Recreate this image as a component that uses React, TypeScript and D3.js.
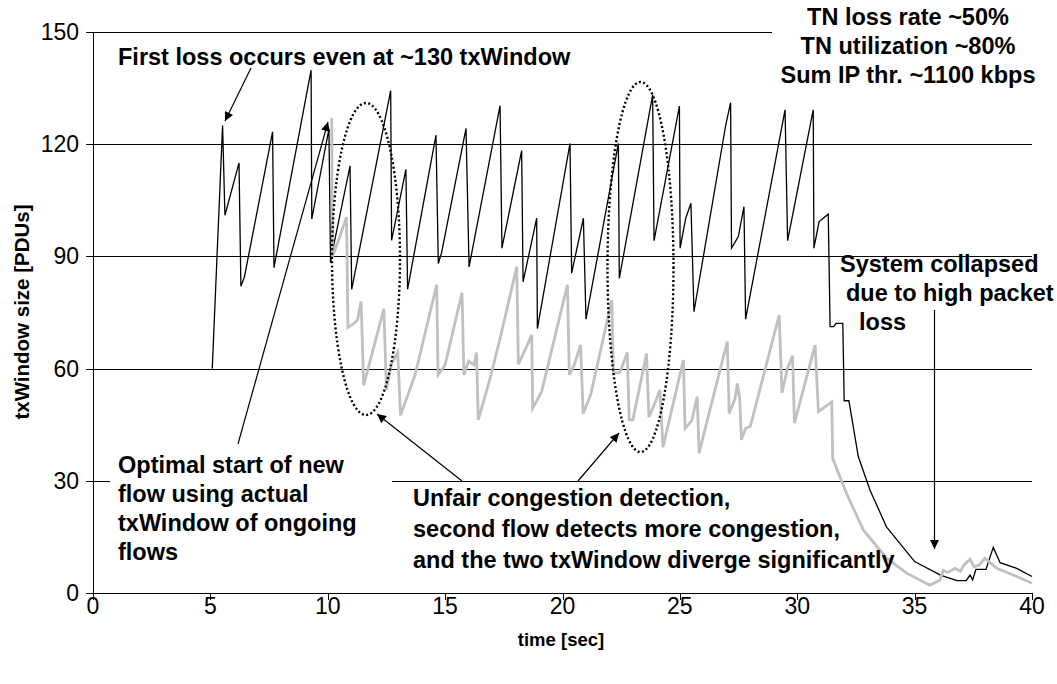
import React from "react";
import * as d3 from "d3";

// Flow 1 (black): [time sec, txWindow PDUs]
const flow1Time = [5.08,5.52,5.62,6.22,6.30,6.45,7.65,7.71,9.29,9.32,10.05,10.12,10.27,10.95,11.02,12.68,12.72,13.33,13.40,14.61,14.71,14.85,15.89,16.02,17.34,17.42,18.26,18.32,18.90,18.93,20.32,20.39,20.89,21.0,22.38,22.42,23.84,23.90,24.98,25.01,25.25,25.47,25.60,26.95,27.16,27.20,27.49,27.73,27.80,29.48,29.59,30.68,30.71,30.93,31.32,31.40,31.55,31.65,31.94,32.0,32.2,32.6,33.1,33.8,35.0,36.1,36.8,37.2,37.36,37.47,37.61,38.04,38.35,38.64,39.35,40];
const flow1Win = [60,125,101,115,82,84.5,123.3,87,139.8,100,124,88.3,93.5,114.2,81.2,134.3,94.3,113.3,81.2,122.4,88.1,91,124.2,87.2,130.3,92.2,118.3,83.2,100.2,70.7,120.2,85.5,100.2,73.2,120.2,84.1,133.2,94.2,130.2,92.2,100.2,104.2,75.2,125,131.1,92.2,95.3,103.3,73.2,129.2,94.2,129.2,92.2,99.3,101.3,71.2,71.2,72.1,72.1,51.4,51.4,36.5,27.5,17.7,8.4,4.8,3.3,3.3,4.8,3.5,6.3,6.3,12.2,8.1,6.6,4.4];

// Flow 2 (grey)
const flow2Time = [10.17,10.2,10.5,10.8,10.86,11.1,11.27,11.42,11.53,12.39,12.5,12.7,12.98,13.1,13.72,14.64,14.7,15.0,15.72,15.8,16.0,16.23,16.34,16.41,16.9,17.34,18.05,18.12,18.47,18.69,18.73,19.11,20.21,20.29,20.5,20.77,20.88,21.2,22.1,22.17,22.45,22.76,22.84,23.0,23.58,23.68,23.95,24.15,24.28,25.15,25.22,25.5,25.74,25.82,26.2,27.02,27.1,27.35,27.45,27.55,27.62,27.8,28.0,29.23,29.35,29.58,29.8,29.88,30.76,30.9,31.47,31.51,32.1,32.82,33.81,34.66,35.65,36.08,36.22,36.4,36.72,36.95,37.1,37.36,37.53,37.75,38.0,38.5,39.35,40];
const flow2Win = [127,90,95,100.5,71,72,73,78,55.5,76,54.3,61,64.3,47.5,58.3,82.4,58.3,61,80.3,58.3,62,61,64.3,46.3,57,68,87.2,61.2,65.9,69,49.4,53.8,82.4,58.3,61,66.3,48,53,78.3,58.7,59,64.3,46.3,46.3,64,47,51,54.3,39,62.3,44,46,52.5,37.4,47,67.2,48,52,56,52,41,44,44.5,74.3,53.5,60,63.4,45.4,66.3,48.5,51.1,36,26.6,16.8,9.3,5.3,2.1,3.5,6.1,5.5,6.6,5.8,7.5,9,7,7.5,9.3,6.6,4.4,2.6];

const xTicks = [0,5,10,15,20,25,30,35,40];
const yTicks = [0,30,60,90,120,150];

const W = 1057, H = 684;
const FONT = "'Liberation Sans', Arial, Helvetica, sans-serif";

export default function App() {
  const x = d3.scaleLinear().domain([0, 40]).range([93, 1032]);
  const y = d3.scaleLinear().domain([0, 150]).range([593, 32]);
  const line = d3.line<[number, number]>().x(d => x(d[0])).y(d => y(d[1]));
  const s1 = flow1Time.map((t, i) => [t, flow1Win[i]] as [number, number]);
  const s2 = flow2Time.map((t, i) => [t, flow2Win[i]] as [number, number]);

  const bold = { fontFamily: FONT, fontWeight: 700, fontSize: 23.5, fill: "#000" } as const;
  const tick = { fontFamily: FONT, fontSize: 23 } as const;

  return (
    <svg width={W} height={H} style={{ position: "absolute", left: 0, top: 0, background: "#fff" }}>
      <defs>
        <marker id="ah" viewBox="0 0 10 10" refX="10" refY="5" markerWidth="11" markerHeight="9" markerUnits="userSpaceOnUse" orient="auto">
          <path d="M0,0 L10,5 L0,10 z" fill="#000" />
        </marker>
      </defs>
      <rect x={0} y={0} width={W} height={H} fill="#fff" />
      {/* gridlines */}
      {yTicks.filter(v => v > 0).map(v => (
        <line key={v} x1={93} x2={1032} y1={Math.round(y(v)) + 0.5} y2={Math.round(y(v)) + 0.5} stroke="#000" strokeWidth={1} />
      ))}
      {/* axes */}
      <line x1={93.5} x2={93.5} y1={32} y2={593} stroke="#000" />
      <line x1={93} x2={1032} y1={593.5} y2={593.5} stroke="#000" />
      {yTicks.map(v => (
        <g key={v}>
          <line x1={86} x2={93} y1={Math.round(y(v)) + 0.5} y2={Math.round(y(v)) + 0.5} stroke="#000" />
          <text x={79} y={y(v) + 8} textAnchor="end" style={tick}>{v}</text>
        </g>
      ))}
      {xTicks.map(v => (
        <g key={v}>
          <line x1={Math.round(x(v)) + 0.5} x2={Math.round(x(v)) + 0.5} y1={593} y2={600} stroke="#000" />
          <text x={x(v)} y={614} textAnchor="middle" style={tick}>{v}</text>
        </g>
      ))}
      <text x={561} y={646} textAnchor="middle" style={{ ...bold, fontSize: 18.5 }}>time [sec]</text>
      <text transform={`translate(29,312) rotate(-90)`} textAnchor="middle" style={{ ...bold, fontSize: 20.5 }}>txWindow size [PDUs]</text>

      {/* series */}
      <path d={line(s1) || ""} fill="none" stroke="#000" strokeWidth={1.3} strokeLinejoin="miter" />
      <path d={line(s2) || ""} fill="none" stroke="#c0c0c0" strokeWidth={2.8} strokeLinejoin="miter" />

      {/* ellipses */}
      <ellipse cx={366} cy={259} rx={34} ry={156} fill="none" stroke="#000" strokeWidth={2.4} strokeDasharray="2 2.4" />
      <ellipse cx={640.5} cy={267} rx={33} ry={185} fill="none" stroke="#000" strokeWidth={2.4} strokeDasharray="2 2.4" />

      {/* text boxes with white background */}
      <rect x={110} y={447} width={282} height={122} fill="#fff" />
      <rect x={772} y={4} width={280} height={86} fill="#fff" />

      {/* annotations */}
      <text x={118} y={65} style={bold}>First loss occurs even at ~130 txWindow</text>
      <line x1={251} y1={68} x2={225} y2={121} stroke="#000" strokeWidth={1.2} markerEnd="url(#ah)" />

      <text x={908} y={25} textAnchor="middle" style={bold}>TN loss rate ~50%</text>
      <text x={908} y={54} textAnchor="middle" style={bold}>TN utilization ~80%</text>
      <text x={908} y={83} textAnchor="middle" style={bold}>Sum IP thr. ~1100 kbps</text>

      <text x={840} y={272} style={bold}>System collapsed</text>
      <text x={846} y={301} style={bold}>due to high packet</text>
      <text x={859} y={330} style={bold}>loss</text>
      <line x1={934.5} y1={310} x2={934.5} y2={549} stroke="#000" strokeWidth={1.2} markerEnd="url(#ah)" />

      <text x={118} y={473} style={bold}>Optimal start of new</text>
      <text x={118} y={502} style={bold}>flow using actual</text>
      <text x={118} y={531} style={bold}>txWindow of ongoing</text>
      <text x={118} y={560} style={bold}>flows</text>
      <line x1={238} y1={444} x2={328} y2={122} stroke="#000" strokeWidth={1.2} markerEnd="url(#ah)" />

      <text x={413} y={506} style={bold}>Unfair congestion detection,</text>
      <text x={413} y={537} style={bold}>second flow detects more congestion,</text>
      <text x={413} y={568} style={bold}>and the two txWindow diverge significantly</text>
      <line x1={462} y1={481} x2={377} y2={414} stroke="#000" strokeWidth={1.2} markerEnd="url(#ah)" />
      <line x1={578} y1={481} x2={619} y2={433} stroke="#000" strokeWidth={1.2} markerEnd="url(#ah)" />
    </svg>
  );
}
